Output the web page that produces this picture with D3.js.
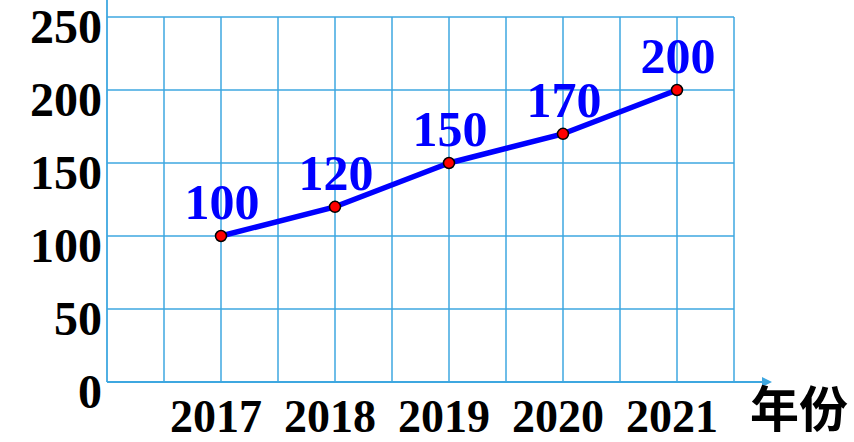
<!DOCTYPE html>
<html>
<head>
<meta charset="utf-8">
<script src="https://cdn.jsdelivr.net/npm/d3@7"></script>
<style>
  body { margin: 0; background: #fff; }
  svg { display: block; }
</style>
</head>
<body>
<div id="chart"></div>
<script>
// data
const years = [2017, 2018, 2019, 2020, 2021];
const values = [100, 120, 150, 170, 200];
const yTicks = [0, 50, 100, 150, 200, 250];
const axisTitle = "年份";

var width = 854
var height = 442;

const svg = d3.select("#chart")
    .append("svg")
    .attr("width", width)
    .attr("height", height);

const gridColor = "#3ea7e0";

// x: grid columns every half year, years on every second line
const x = d3.scaleLinear()
    .domain([2016, 2021.5])
    .range([107, 734]);

const y = d3.scaleLinear()
    .domain([0, 250])
    .range([382, 17]);

// vertical grid lines
const xGrid = d3.range(2016.5, 2021.51, 0.5);
svg.append("g")
    .selectAll("line")
    .data(xGrid)
    .join("line")
    .attr("x1", d => x(d))
    .attr("x2", d => x(d))
    .attr("y1", y(250))
    .attr("y2", y(0))
    .attr("stroke", gridColor)
    .attr("stroke-width", 1.5);

// horizontal grid lines
svg.append("g")
    .selectAll("line")
    .data(yTicks.filter(d => d > 0))
    .join("line")
    .attr("x1", x(2016))
    .attr("x2", x(2021.5))
    .attr("y1", d => y(d))
    .attr("y2", d => y(d))
    .attr("stroke", gridColor)
    .attr("stroke-width", 1.5);

// axes, arrow on x
svg.append("defs").append("marker")
    .attr("id", "arrow")
    .attr("viewBox", "0 0 10 10")
    .attr("refX", 2)
    .attr("refY", 5)
    .attr("markerUnits", "userSpaceOnUse")
    .attr("markerWidth", 10)
    .attr("markerHeight", 10)
    .attr("orient", "auto")
    .append("path")
    .attr("d", "M0,0 L10,5 L0,10 Z")
    .attr("fill", gridColor);

svg.append("line")
    .attr("x1", x(2016))
    .attr("x2", x(2016))
    .attr("y1", 0)
    .attr("y2", y(0))
    .attr("stroke", gridColor)
    .attr("stroke-width", 1.8);

svg.append("line")
    .attr("x1", x(2016))
    .attr("x2", 764)
    .attr("y1", y(0))
    .attr("y2", y(0))
    .attr("stroke", gridColor)
    .attr("stroke-width", 1.8)
    .attr("marker-end", "url(#arrow)");

// y tick labels
svg.append("g")
    .selectAll("text")
    .data(yTicks)
    .join("text")
    .attr("x", 102)
    .attr("y", d => y(d) + 26)
    .attr("text-anchor", "end")
    .style("font-family", "'Liberation Serif', 'Times New Roman', serif")
    .style("font-weight", "bold")
    .style("font-size", "48px")
    .text(d => d);

// x tick labels
svg.append("g")
    .selectAll("text")
    .data(years)
    .join("text")
    .attr("x", d => x(d) - 5)
    .attr("y", 432)
    .attr("text-anchor", "middle")
    .style("font-family", "'Liberation Serif', 'Times New Roman', serif")
    .style("font-weight", "bold")
    .style("font-size", "46px")
    .text(d => d);

svg.append("text")
    .attr("x", 750)
    .attr("y", 427)
    .style("font-family", "'Noto Sans CJK SC', sans-serif")
    .style("font-weight", "bold")
    .style("font-size", "49px")
    .text(axisTitle);

// the line
const line = d3.line()
    .x((d, i) => x(years[i]))
    .y(d => y(d));

svg.append("path")
    .datum(values)
    .attr("d", line)
    .attr("fill", "none")
    .attr("stroke", "#0000ff")
    .attr("stroke-width", 5.5)
    .attr("stroke-linejoin", "round");

svg.append("g")
    .selectAll("circle")
    .data(values)
    .join("circle")
    .attr("cx", (d, i) => x(years[i]))
    .attr("cy", d => y(d))
    .attr("r", 5.5)
    .attr("fill", "#ff0000")
    .attr("stroke", "#000")
    .attr("stroke-width", 1.5);

// value labels
svg.append("g")
    .selectAll("text")
    .data(values)
    .join("text")
    .attr("x", (d, i) => x(years[i]) + 1)
    .attr("y", d => y(d) - 17)
    .attr("text-anchor", "middle")
    .attr("fill", "#0000ff")
    .style("font-family", "'Liberation Serif', 'Times New Roman', serif")
    .style("font-weight", "bold")
    .style("font-size", "50px")
    .text(d => d);
</script>
</body>
</html>
